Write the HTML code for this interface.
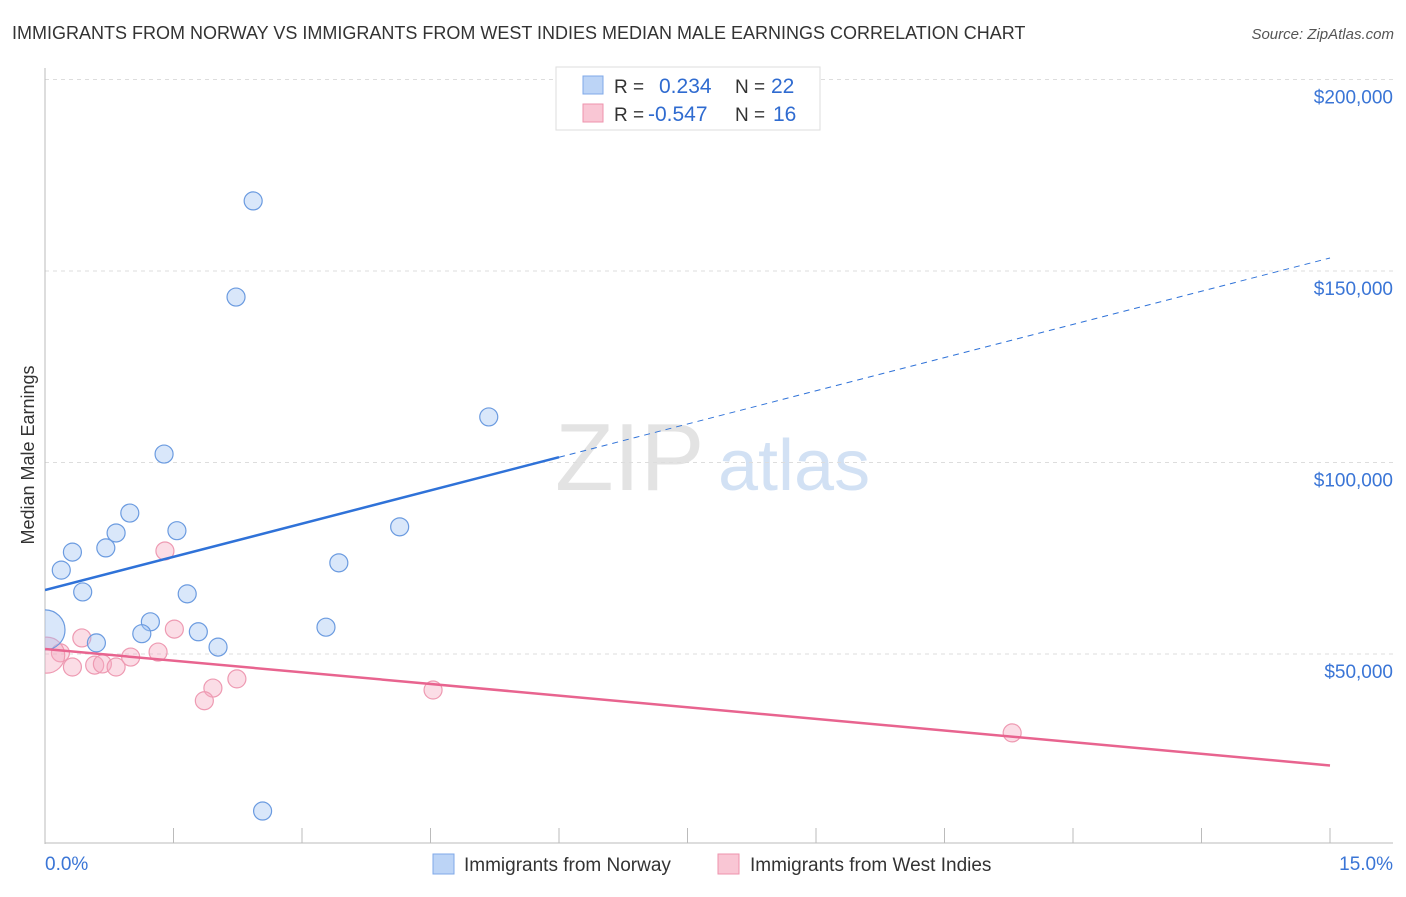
<!DOCTYPE html>
<html><head><meta charset="utf-8"><style>
body{margin:0;background:#fff;font-family:"Liberation Sans",sans-serif;}
svg text{font-family:"Liberation Sans",sans-serif;}
</style></head><body>
<svg id="chart" width="1406" height="892" xmlns="http://www.w3.org/2000/svg">
<text x="12" y="39" font-size="18" fill="#333">IMMIGRANTS FROM NORWAY VS IMMIGRANTS FROM WEST INDIES MEDIAN MALE EARNINGS CORRELATION CHART</text>
<text x="1394" y="39" font-size="15" fill="#555" text-anchor="end" font-style="italic">Source: ZipAtlas.com</text>
<text transform="translate(34,455) rotate(-90)" font-size="18" fill="#333" text-anchor="middle">Median Male Earnings</text>
<text x="555" y="490" font-size="96" fill="#ddd" font-family="Liberation Serif" opacity="0.8">ZIP</text>
<text x="718" y="490" font-size="72" fill="#c8daf2" opacity="0.8">atlas</text>
<g id="grid"></g><g id="axes"></g>
<defs><clipPath id="clip"><rect x="45" y="60" width="1360" height="784"/></clipPath></defs>
<g id="marks" clip-path="url(#clip)"></g>
<g>
<rect x="556" y="67" width="264" height="63" fill="#fff" stroke="#ddd"/>
<rect x="583" y="76" width="20" height="18" fill="#bcd4f6" stroke="#7fa8e8"/>
<rect x="583" y="104" width="20" height="18" fill="#f9c6d4" stroke="#ee93ad"/>
<text x="614" y="93" font-size="19" fill="#333">R = </text><text x="659" y="93" font-size="21" fill="#2f6bd0">0.234</text>
<text x="735" y="93" font-size="19" fill="#333">N = </text><text x="771" y="93" font-size="21" fill="#2f6bd0">22</text>
<text x="614" y="121" font-size="19" fill="#333">R = </text><text x="648" y="121" font-size="21" fill="#2f6bd0">-0.547</text>
<text x="735" y="121" font-size="19" fill="#333">N = </text><text x="773" y="121" font-size="21" fill="#2f6bd0">16</text>
</g>
<g>
<rect x="433" y="854" width="21" height="20" fill="#bcd4f6" stroke="#7fa8e8"/>
<text x="464" y="871" font-size="19" fill="#333">Immigrants from Norway</text>
<rect x="718" y="854" width="21" height="20" fill="#f9c6d4" stroke="#ee93ad"/>
<text x="750" y="871" font-size="19" fill="#333">Immigrants from West Indies</text>
</g>
</svg>
<script>
const yTicks=[50,100,150,200];
const yTickLabels=["$50,000","$100,000","$150,000","$200,000"];
const xTicks=[0,1.5,3,4.5,6,7.5,9,10.5,12,13.5,15];
const norwayX=[2.43,2.23,5.18,1.39,0.99,0.83,0.71,0.32,0.19,1.54,4.14,3.43,0.44,1.66,1.23,1.13,1.79,0.60,2.02,3.28,2.54,0.0];
const norwayY=[168.3,143.2,111.9,102.2,86.8,81.6,77.7,76.6,71.9,82.2,83.2,73.8,66.2,65.7,58.4,55.3,55.8,52.9,51.8,57.0,9.0,56.3];
const norwayR=[9,9,9,9,9,9,9,9,9,9,9,9,9,9,9,9,9,9,9,9,9,20];
const wiX=[1.40,0.43,1.51,1.32,1.00,0.18,0.02,0.32,0.58,0.67,0.83,1.96,2.24,1.86,4.53,11.29];
const wiY=[76.9,54.2,56.5,50.5,49.2,50.3,49.7,46.6,47.1,47.4,46.6,41.1,43.5,37.8,40.6,29.4];
const wiR=[9,9,9,9,9,9,18,9,9,9,9,9,9,9,9,9];
const norwayTrend=[66.7,153.4]; const norwaySolidEnd=6.0;
const wiTrend=[51.3,20.9];
const NS="http://www.w3.org/2000/svg";
const xs=v=>45+v/15*1285, ys=v=>845.5-v/50*191.5;
function mk(t,a,p){const e=document.createElementNS(NS,t);for(const k in a)e.setAttribute(k,a[k]);p.appendChild(e);return e;}
const grid=document.getElementById('grid'),axes=document.getElementById('axes'),marks=document.getElementById('marks');
yTicks.forEach((v,i)=>{
 const l=mk('line',{x1:45,x2:1393,y1:ys(v),y2:ys(v),stroke:'#ddd','stroke-dasharray':'4,4'},grid);
 
 
 const t=mk('text',{x:1393,y:ys(v)+24,'font-size':19,fill:'#3a75d6','text-anchor':'end'},axes);
 t.textContent=yTickLabels[i];
 
 
});
mk('line',{x1:45,x2:45,y1:68,y2:844,stroke:'#bbb'},axes);
mk('line',{x1:45,x2:1393,y1:843,y2:843,stroke:'#bbb'},axes);
xTicks.forEach(v=>{const l=mk('line',{x1:xs(v),x2:xs(v),y1:828,y2:843,stroke:'#bbb'},axes);
 
 });
let t=mk('text',{x:45,y:870,'font-size':19,fill:'#3a75d6'},axes);t.textContent=xTicks[0].toFixed(1)+'%';


t=mk('text',{x:1393,y:870,'font-size':19,fill:'#3a75d6','text-anchor':'end'},axes);t.textContent=xTicks[xTicks.length-1].toFixed(1)+'%';


wiX.forEach((x,i)=>{const c=mk('circle',{cx:xs(x),cy:ys(wiY[i]),r:wiR[i],fill:'rgba(246,170,192,0.4)',stroke:'#ee9ab2','stroke-width':1.2},marks);
 
 });
norwayX.forEach((x,i)=>{const c=mk('circle',{cx:xs(x),cy:ys(norwayY[i]),r:norwayR[i],fill:'rgba(160,195,242,0.4)',stroke:'#6b9be0','stroke-width':1.2},marks);
 
 });
const by=x=>norwayTrend[0]+(norwayTrend[1]-norwayTrend[0])*x/15;
let l=mk('line',{x1:xs(0),y1:ys(by(0)),x2:xs(norwaySolidEnd),y2:ys(by(norwaySolidEnd)),stroke:'#2f72d8','stroke-width':2.5},marks);


l=mk('line',{x1:xs(norwaySolidEnd),y1:ys(by(norwaySolidEnd)),x2:xs(15),y2:ys(by(15)),stroke:'#2f72d8','stroke-width':1,'stroke-dasharray':'6,5'},marks);


l=mk('line',{x1:xs(0),y1:ys(wiTrend[0]),x2:xs(15),y2:ys(wiTrend[1]),stroke:'#e8648f','stroke-width':2.5},marks);


</script>
</body></html>
